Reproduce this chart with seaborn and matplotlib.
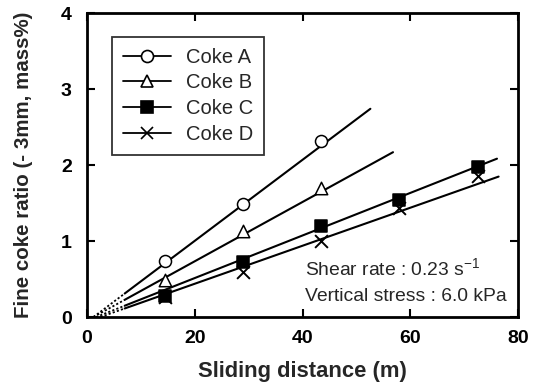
import numpy as np
import pandas as pd
import matplotlib
matplotlib.use("Agg")
import matplotlib.pyplot as plt
from matplotlib.lines import Line2D
import seaborn as sns

# ---- data ----
series = ["Coke A", "Coke B", "Coke C", "Coke D"]
x_a = [14.5, 29.0, 43.5]
y_a = [0.74, 1.49, 2.31]
x_b = [14.5, 29.0, 43.5]
y_b = [0.49, 1.13, 1.70]
x_c = [14.5, 29.0, 43.5, 58.0, 72.5]
y_c = [0.27, 0.73, 1.20, 1.54, 1.97]
x_d = [14.5, 29.0, 43.5, 58.0, 72.5]
y_d = [0.26, 0.59, 1.00, 1.43, 1.85]
# fitted lines: slope and x-intercept, and the x where each line ends
fit_slope = [0.0533, 0.0390, 0.0280, 0.0250]
fit_x0 = [1.2, 1.2, 1.7, 2.5]
fit_end = [52.6, 56.8, 76.1, 76.4]
solid_start = 7.0
xticks = [0, 20, 40, 60, 80]
yticks = [0, 1, 2, 3, 4]

xs = [x_a, x_b, x_c, x_d]
ys = [y_a, y_b, y_c, y_d]
markers = ["o", "^", "s", "x"]
faces = ["white", "white", "black", "black"]
msizes = [75, 80, 85, 85]

sns.set_style("ticks")
plt.rcParams["font.family"] = ["Liberation Sans", "DejaVu Sans"]
plt.rcParams["mathtext.fontset"] = "custom"
plt.rcParams["mathtext.rm"] = "Liberation Sans"
plt.rcParams["mathtext.it"] = "Liberation Sans"

fig = plt.figure(figsize=(5.45, 3.85), dpi=100)
ax = fig.add_axes([87 / 545, 1 - 317 / 385, 431 / 545, 304 / 385])

handles = []
for name, x, y, m, fc, k, x0, xe, ms in zip(series, xs, ys, markers, faces,
                                           fit_slope, fit_x0, fit_end, msizes):
    dsolid = pd.DataFrame({"x": [solid_start, xe]})
    dsolid["y"] = k * (dsolid["x"] - x0)
    ddot = pd.DataFrame({"x": [x0, solid_start]})
    ddot["y"] = k * (ddot["x"] - x0)
    sns.lineplot(data=dsolid, x="x", y="y", ax=ax, color="black", lw=1.5,
                 zorder=2)
    sns.lineplot(data=ddot, x="x", y="y", ax=ax, color="black", lw=1.3,
                 linestyle=(0, (1.2, 1.2)), zorder=2)
    df = pd.DataFrame({"x": x, "y": y})
    if m == "x":
        sns.scatterplot(data=df, x="x", y="y", ax=ax, marker="x", s=ms,
                        color="black", linewidth=1.4, zorder=3)
    else:
        sns.scatterplot(data=df, x="x", y="y", ax=ax, marker=m, s=ms,
                        facecolor=fc, edgecolor="black", linewidth=1.1,
                        zorder=4)
    handles.append(Line2D([0], [0], color="black", lw=1.3, marker=m,
                          markersize=np.sqrt(ms),
                          markerfacecolor=fc, markeredgecolor="black",
                          markeredgewidth=1.2, label=name))

ax.set_xlim(0, 80)
ax.set_ylim(0, 4)
ax.set_xticks(xticks)
ax.set_yticks(yticks)
ax.set_xticklabels([str(t) for t in xticks], fontsize=14, fontweight="bold")
ax.set_yticklabels([str(t) for t in yticks], fontsize=14, fontweight="bold")
ax.tick_params(direction="in", length=6, width=1.5, top=True, right=True,
               colors="black")
ax.tick_params(axis="x", pad=9.5)
ax.tick_params(axis="y", pad=11)
for s in ax.spines.values():
    s.set_linewidth(2.0)
    s.set_color("black")

ax.set_xlabel("Sliding distance (m)", fontsize=15.8, fontweight="bold",
              labelpad=10)
ax.set_ylabel("Fine coke ratio (- 3mm, mass%)", fontsize=14.8,
              fontweight="bold", labelpad=20)

leg = ax.legend(handles=handles, loc="upper left",
                bbox_to_anchor=(0.058, 0.922), fontsize=14.5,
                handlelength=2.4, labelspacing=0.33, borderpad=0.55,
                handletextpad=0.7, frameon=True, fancybox=False,
                edgecolor="black", borderaxespad=0)
leg.get_frame().set_linewidth(1.3)

ax.text(0.506, 0.162, "Shear rate : 0.23 s$^{-1}$", transform=ax.transAxes,
        fontsize=13.9, va="center", ha="left")
ax.text(0.506, 0.066, "Vertical stress : 6.0 kPa", transform=ax.transAxes,
        fontsize=13.9, va="center", ha="left")

fig.savefig("out.png", dpi=100)
